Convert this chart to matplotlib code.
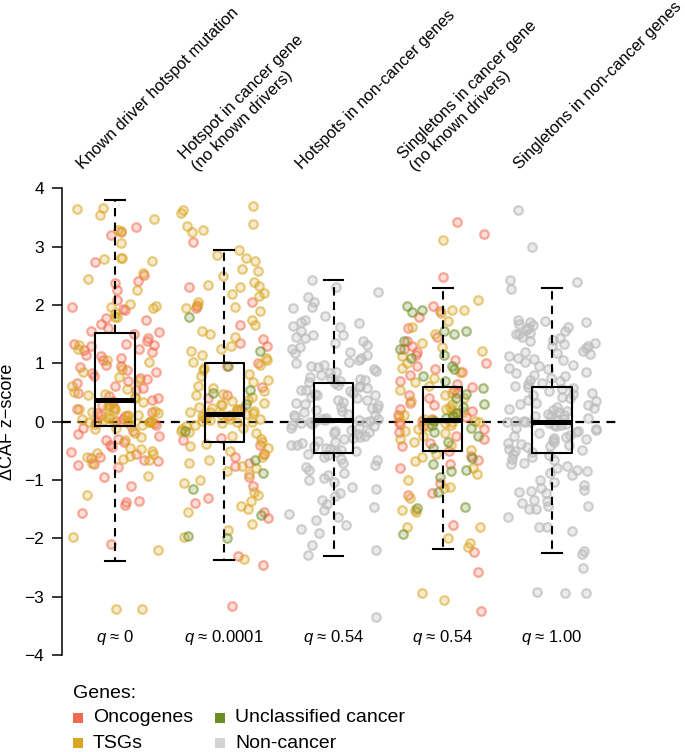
"""Delta-CAF z-scores per mutation class: jittered points + boxplots, R-style layout."""

import matplotlib

matplotlib.use("Agg")
import matplotlib.pyplot as plt
import numpy as np
from matplotlib.lines import Line2D
from matplotlib.transforms import blended_transform_factory

plt.rcParams["font.family"] = ["Liberation Sans", "DejaVu Sans"]
plt.rcParams["mathtext.fontset"] = "custom"
plt.rcParams["mathtext.it"] = "Liberation Sans:italic"
plt.rcParams["mathtext.rm"] = "Liberation Sans"

# --- categories ---
labels = [
    "Known driver hotspot mutation",
    "Hotspot in cancer gene\n(no known drivers)",
    "Hotspots in non-cancer genes",
    "Singletons in cancer gene\n(no known drivers)",
    "Singletons in non-cancer genes",
]
q_values = ["0", "0.0001", "0.54", "0.54", "1.00"]

gene_classes = ["Oncogenes", "TSGs", "Unclassified cancer", "Non-cancer"]
class_colors = ["#F26B4F", "#DAA520", "#6B8E23", "#D3D3D3"]
point_colors = ["#F26B4F", "#DAA520", "#6B8E23", "#BDBDBD"]

# --- box statistics ---
q3 = [1.52, 1.01, 0.66, 0.60, 0.59]
med = [0.37, 0.14, 0.03, 0.03, 0.00]
q1 = [-0.07, -0.35, -0.53, -0.50, -0.53]
whis_hi = [3.80, 2.94, 2.43, 2.29, 2.29]
whis_lo = [-2.38, -2.36, -2.30, -2.18, -2.24]

# --- points: group 1, known driver hotspots ---
g1_onc = [3.34, 3.25, 3.20, 2.74, 2.51, 2.41, 2.38, 2.26, 2.08, 1.97, 1.93, 1.91, 1.77, 1.75,
          1.68, 1.60, 1.55, 1.53, 1.50, 1.44, 1.38, 1.33, 1.34, 1.31, 1.29, 1.25, 1.23, 1.19,
          1.15, 1.12, 1.09, 1.05, 0.98, 0.95, 0.93, 0.89, 0.85, 0.83, 0.79, 0.75, 0.73, 0.69,
          0.66, 0.62, 0.57, 0.55, 0.49, 0.44, 0.41, 0.37, 0.35, 0.29, 0.24, 0.21, 0.17, 0.15,
          0.12, 0.09, 0.05, 0.02, 0.00, -0.02, -0.06, -0.11, -0.16, -0.21, -0.24, -0.29, -0.31,
          -0.35, -0.39, -0.44, -0.51, -0.56, -0.61, -0.62, -0.66, -0.68, -0.72, -0.74, -0.78,
          -0.95, -1.10, -1.36, -1.38, -1.42, -1.56, -2.10]
g1_tsg = [3.65, 3.66, 3.55, 3.48, 3.29, 3.27, 3.07, 2.81, 2.81, 2.79, 2.75, 2.55, 2.45, 2.26,
          2.01, 1.99, 1.97, 1.95, 1.86, 1.80, 1.79, 1.31, 1.24, 1.06, 1.02, 0.91, 0.86, 0.76,
          0.71, 0.61, 0.56, 0.51, 0.48, 0.45, 0.43, 0.40, 0.34, 0.33, 0.30, 0.27, 0.26, 0.22,
          0.21, 0.19, 0.18, 0.16, 0.15, 0.12, 0.11, 0.10, 0.08, 0.06, 0.05, 0.03, 0.02, 0.01,
          0.00, 0.00, 0.00, 0.00, 0.00, -0.01, -0.03, -0.05, -0.08, -0.10, -0.12, -0.19, -0.26,
          -0.31, -0.45, -0.47, -0.50, -0.53, -0.55, -0.58, -0.60, -0.63, -0.65, -0.70, -0.93,
          -1.26, -1.97, -2.20, -3.20, -3.21]

# --- group 2, hotspots in cancer genes ---
g2_onc = [3.08, 2.30, 2.05, 1.98, 1.95, 1.65, 1.42, 1.35, 1.30, 1.00, 0.95, 0.60, 0.45, 0.40,
          0.21, 0.10, -0.28, -0.32, -0.40, -0.55, -0.60, -0.70, -0.75, -0.95, -1.10, -1.30,
          -1.40, -1.55, -1.65, -2.30, -2.45, -3.15]
g2_tsg = [3.70, 3.62, 3.58, 3.38, 3.35, 3.28, 3.25, 2.95, 2.85, 2.80, 2.75, 2.62, 2.58, 2.50,
          2.40, 2.35, 2.33, 2.30, 2.20, 2.18, 2.15, 2.05, 2.00, 1.97, 1.95, 1.90, 1.75, 1.65,
          1.55, 1.50, 1.45, 1.30, 1.25, 1.22, 1.15, 1.10, 1.05, 1.02, 0.98, 0.92, 0.88, 0.82,
          0.78, 0.72, 0.68, 0.62, 0.58, 0.52, 0.48, 0.45, 0.42, 0.38, 0.35, 0.32, 0.30, 0.28,
          0.26, 0.24, 0.22, 0.20, 0.19, 0.18, 0.17, 0.16, 0.15, 0.14, 0.13, 0.12, 0.10, 0.08,
          0.06, 0.05, 0.04, 0.03, 0.02, 0.00, 0.00, -0.02, -0.05, -0.08, -0.10, -0.12, -0.15,
          -0.18, -0.20, -0.25, -0.30, -0.35, -0.38, -0.42, -0.45, -0.50, -0.55, -0.60, -0.65,
          -0.70, -0.75, -0.80, -0.85, -0.90, -1.00, -1.05, -1.20, -1.25, -1.35, -1.45, -1.50,
          -1.55, -1.75, -1.85, -1.98, -2.35]
g2_unc = [1.80, 1.22, 0.95, 0.55, 0.50, 0.30, -0.15, -0.65, -0.88, -1.15, -1.60, -1.95, -2.00]

# --- group 3, hotspots in non-cancer genes ---
g3_non = [2.43, 2.31, 2.23, 2.14, 2.05, 1.97, 1.95, 1.81, 1.74, 1.71, 1.70, 1.64, 1.63, 1.55,
          1.49, 1.48, 1.45, 1.43, 1.39, 1.35, 1.31, 1.28, 1.24, 1.20, 1.18, 1.15, 1.09, 1.05,
          1.03, 1.00, 0.98, 0.96, 0.94, 0.90, 0.87, 0.85, 0.83, 0.80, 0.77, 0.75, 0.74, 0.71,
          0.70, 0.68, 0.66, 0.63, 0.62, 0.60, 0.58, 0.55, 0.54, 0.52, 0.49, 0.48, 0.46, 0.45,
          0.42, 0.40, 0.38, 0.37, 0.34, 0.32, 0.30, 0.29, 0.26, 0.24, 0.23, 0.20, 0.18, 0.17,
          0.14, 0.12, 0.11, 0.08, 0.07, 0.05, 0.04, 0.03, 0.03, 0.02, 0.01, 0.00, -0.01, -0.02,
          -0.04, -0.05, -0.08, -0.10, -0.11, -0.14, -0.16, -0.18, -0.20, -0.21, -0.24, -0.26,
          -0.28, -0.30, -0.33, -0.34, -0.36, -0.39, -0.40, -0.42, -0.45, -0.47, -0.48, -0.50,
          -0.52, -0.55, -0.57, -0.60, -0.63, -0.65, -0.70, -0.74, -0.77, -0.83, -0.88, -0.91,
          -0.96, -1.00, -1.04, -1.11, -1.15, -1.22, -1.27, -1.34, -1.41, -1.46, -1.51, -1.58,
          -1.63, -1.69, -1.77, -1.83, -1.90, -2.11, -2.20, -2.28, -3.34]

# --- group 4, singletons in cancer genes ---
g4_onc = [3.42, 3.21, 2.48, 1.98, 1.90, 1.80, 1.60, 1.45, 1.39, 1.30, 1.25, 1.20, 1.15, 1.05,
          1.00, 0.95, 0.90, 0.85, 0.80, 0.70, 0.65, 0.60, 0.55, 0.50, 0.45, 0.40, 0.32, 0.28,
          0.22, 0.18, 0.15, 0.12, 0.08, 0.05, 0.02, 0.00, -0.03, -0.08, -0.12, -0.18, -0.25,
          -0.30, -0.36, -0.42, -0.50, -0.58, -0.65, -0.72, -0.80, -1.05, -1.22, -1.25, -1.77,
          -2.23, -2.58, -3.24]
g4_tsg = [3.12, 2.08, 1.92, 1.92, 1.86, 1.73, 1.62, 1.50, 1.35, 1.28, 1.22, 1.12, 1.00, 0.92,
          0.85, 0.75, 0.68, 0.62, 0.55, 0.50, 0.45, 0.40, 0.36, 0.30, 0.25, 0.22, 0.20, 0.16,
          0.12, 0.10, 0.08, 0.05, 0.03, 0.02, 0.00, 0.00, -0.02, -0.05, -0.08, -0.12, -0.16,
          -0.20, -0.25, -0.30, -0.35, -0.40, -0.48, -0.55, -0.60, -0.68, -0.80, -0.90, -1.00,
          -1.12, -1.14, -1.31, -1.51, -1.52, -1.55, -1.80, -1.81, -2.00, -2.07, -2.15, -2.94,
          -3.05]
g4_unc = [1.98, 1.91, 1.88, 1.55, 1.55, 1.51, 1.39, 1.25, 1.15, 1.10, 0.95, 0.90, 0.78, 0.70,
          0.58, 0.48, 0.40, 0.30, 0.25, 0.15, 0.10, 0.06, 0.02, -0.05, -0.10, -0.18, -0.25,
          -0.35, -0.45, -0.62, -0.72, -0.83, -0.85, -0.95, -1.20, -1.46, -1.48, -1.92]

# --- group 5, singletons in non-cancer genes ---
g5_non = [3.62, 3.00, 2.43, 2.40, 2.27, 1.75, 1.73, 1.71, 1.71, 1.68, 1.66, 1.62, 1.60, 1.58,
          1.55, 1.52, 1.50, 1.50, 1.46, 1.43, 1.40, 1.38, 1.35, 1.33, 1.30, 1.30, 1.27, 1.21,
          1.20, 1.18, 1.16, 1.13, 1.10, 1.08, 1.05, 1.02, 0.98, 0.95, 0.92, 0.90, 0.86, 0.84,
          0.80, 0.78, 0.75, 0.72, 0.70, 0.66, 0.64, 0.62, 0.60, 0.58, 0.56, 0.53, 0.50, 0.48,
          0.45, 0.42, 0.40, 0.38, 0.35, 0.32, 0.30, 0.28, 0.26, 0.24, 0.22, 0.20, 0.18, 0.16,
          0.14, 0.12, 0.10, 0.09, 0.07, 0.05, 0.04, 0.03, 0.02, 0.01, 0.00, 0.00, -0.01, -0.02,
          -0.03, -0.05, -0.06, -0.08, -0.10, -0.12, -0.14, -0.16, -0.18, -0.20, -0.22, -0.24,
          -0.26, -0.28, -0.30, -0.32, -0.34, -0.36, -0.38, -0.40, -0.42, -0.44, -0.46, -0.48,
          -0.50, -0.52, -0.55, -0.57, -0.60, -0.63, -0.66, -0.70, -0.72, -0.76, -0.80, -0.83,
          -0.85, -0.88, -0.92, -0.99, -1.04, -1.08, -1.13, -1.17, -1.19, -1.20, -1.22, -1.34,
          -1.36, -1.40, -1.44, -1.44, -1.49, -1.50, -1.63, -1.80, -1.81, -1.88, -2.22, -2.26,
          -2.51, -2.92, -2.93, -2.93]

# (group index, gene class index, values)
point_sets = [
    (0, 0, g1_onc), (0, 1, g1_tsg),
    (1, 0, g2_onc), (1, 1, g2_tsg), (1, 2, g2_unc),
    (2, 3, g3_non),
    (3, 0, g4_onc), (3, 1, g4_tsg), (3, 2, g4_unc),
    (4, 3, g5_non),
]

W, H = 685, 752
fig = plt.figure(figsize=(W / 100, H / 100), dpi=100)
ax = fig.add_axes([62 / W, 88 / H, 566.5 / W, 484.5 / H])
positions = np.arange(1, len(labels) + 1)

# points, jittered horizontally with a fixed hash so the layout is repeatable
for g, c, vals in point_sets:
    vals = np.asarray(vals)
    k = np.arange(len(vals)) + 1
    u = (np.sin(k * 12.9898 + 78.233 * (4 * g + c + 1)) * 43758.5453) % 1.0
    jit = (u - 0.5) * 0.82
    col = matplotlib.colors.to_rgb(point_colors[c])
    ea, fa = (0.7, 0.3) if c == 3 else (0.55, 0.22)
    ax.scatter(positions[g] + jit, vals, s=38, linewidths=1.6,
               facecolors=[(*col, fa)], edgecolors=[(*col, ea)], zorder=2)

ax.hlines(0, 0.515, 5.64, colors="black", lw=1.6, linestyles=(0, (4, 3)), zorder=1.5)

stats = [dict(med=m, q1=a, q3=b, whislo=lo, whishi=hi, fliers=[])
         for m, a, b, lo, hi in zip(med, q1, q3, whis_lo, whis_hi)]
ax.bxp(stats, positions=positions, widths=0.36, capwidths=0.18, showfliers=False,
       boxprops=dict(color="black", lw=1.5),
       medianprops=dict(color="black", lw=3.6, solid_capstyle="butt"),
       whiskerprops=dict(color="black", lw=1.5, linestyle=(0, (4, 3))),
       capprops=dict(color="black", lw=1.5), zorder=3)

for p, q in zip(positions, q_values):
    ax.text(p, -3.7, f"$q$ ≈ {q}", ha="center", va="center", fontsize=12)

ax.set_xlim(0.515, 5.7)
ax.set_ylim(-4.15, 4.15)
ax.set_yticks(range(-4, 5))
ax.set_xticks([])
for s in ("top", "right", "bottom"):
    ax.spines[s].set_visible(False)
ax.spines["left"].set_bounds(-4, 4)
ax.spines["left"].set_linewidth(1.1)
ax.tick_params(axis="y", length=7, width=1.1, pad=6, labelsize=12.5)
ax.set_ylabel("ΔCAF z−score", fontsize=13)
ax.yaxis.set_label_coords(-0.082, 0.5)

# rotated category labels above the plot (anchor = start of the last line)
trans = blended_transform_factory(ax.transData, fig.transFigure)
for p, lab in zip(positions, labels):
    dx = -0.26 if "\n" in lab else -0.29
    ax.text(p + dx, 1 - 170 / H, lab, transform=trans, rotation=45, rotation_mode="anchor",
            ha="left", va="baseline", fontsize=11.8, linespacing=1.2, clip_on=False)

# legend
fig.text(73 / W, 1 - 693 / H, "Genes:", fontsize=14, ha="left", va="center")
legend_slots = [(78, 718), (78, 743), (220, 718), (220, 743)]
for (sx, sy), name, colr in zip(legend_slots, gene_classes, class_colors):
    fig.add_artist(Line2D([sx / W], [1 - sy / H], marker="s", ms=6.5, mew=0, color=colr,
                          transform=fig.transFigure))
    fig.text((sx + 15) / W, 1 - sy / H, name, fontsize=14, ha="left", va="center")

fig.savefig("out.png", dpi=100)
